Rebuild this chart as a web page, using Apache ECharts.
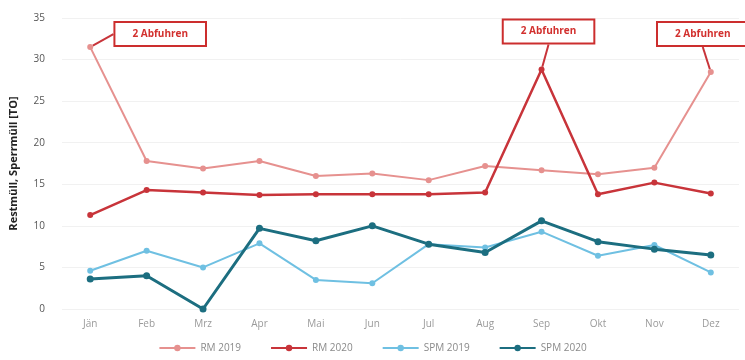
<!DOCTYPE html>
<html>
<head>
<meta charset="utf-8">
<script src="https://cdn.jsdelivr.net/npm/echarts@6/dist/echarts.min.js"></script>
<style>
  html, body { margin: 0; padding: 0; background: #fff; }
  #chart { width: 745px; height: 360px; }
</style>
</head>
<body>
<div id="chart"></div>
<script>
const months = ['Jän', 'Feb', 'Mrz', 'Apr', 'Mai', 'Jun', 'Jul', 'Aug', 'Sep', 'Okt', 'Nov', 'Dez']
const rm2019 = [31.5, 17.8, 16.9, 17.8, 16.0, 16.3, 15.5, 17.2, 16.7, 16.2, 17.0, 28.5]
const rm2020 = [11.3, 14.3, 14.0, 13.7, 13.8, 13.8, 13.8, 14.0, 28.8, 13.8, 15.2, 13.9]
const spm2019 = [4.6, 7.0, 5.0, 7.9, 3.5, 3.1, 7.8, 7.4, 9.3, 6.4, 7.7, 4.4]
const spm2020 = [3.6, 4.0, 0.0, 9.7, 8.2, 10.0, 7.8, 6.8, 10.6, 8.1, 7.2, 6.5]
const noteText = '2 Abfuhren'
// which points carry the "2 Abfuhren" box: [series, monthIndex]
const notes = [['RM 2019', 0], ['RM 2020', 8], ['RM 2019', 11]]

const chart = echarts.init(document.getElementById('chart'))

// offset of the note box from its point (layout only)
const noteOffset = {
  'RM 2019-0': [70, -13],
  'RM 2020-8': [7, -38],
  'RM 2019-11': [-8, -38]
}

function withNotes (name, values) {
  return values.map((v, i) => {
    const hasNote = notes.some(n => n[0] === name && n[1] === i)
    if (!hasNote) return v
    return {
      value: v,
      label: {
        show: true,
        position: 'inside',
        formatter: noteText,
        color: '#d2302e',
        fontSize: 10,
        fontWeight: 'bold',
        fontFamily: 'Open Sans',
        backgroundColor: '#fff',
        borderColor: '#cc2e2e',
        borderWidth: 2,
        padding: [7, 17, 5, 17]
      },
      labelLine: {
        show: true,
        lineStyle: { color: '#c8343a', width: 2 }
      }
    }
  })
}

function makeSeries (name, values, color, width, size) {
  return {
    name: name,
    type: 'line',
    data: withNotes(name, values),
    symbol: 'circle',
    symbolSize: size,
    showSymbol: true,
    itemStyle: { color: color },
    lineStyle: { color: color, width: width },
    labelLayout: (params) => {
      const off = noteOffset[name + '-' + params.dataIndex]
      if (!off) return {}
      return { dx: off[0], dy: off[1] }
    },
    z: 3
  }
}

const option = {
  backgroundColor: '#fff',
  animation: false,
  grid: { left: 62, right: 6, top: 18, bottom: 51 },
  legend: {
    bottom: 2,
    left: 'center',
    itemWidth: 36,
    itemHeight: 8,
    itemGap: 29,
    textStyle: { color: '#8a8a8a', fontSize: 10, fontFamily: 'Open Sans' },
    data: ['RM 2019', 'RM 2020', 'SPM 2019', 'SPM 2020']
  },
  xAxis: {
    type: 'category',
    data: months,
    boundaryGap: true,
    axisLine: { show: false },
    axisTick: { show: false },
    axisLabel: { color: '#9a9a9a', fontSize: 10, margin: 10, fontFamily: 'Open Sans' }
  },
  yAxis: {
    type: 'value',
    min: 0,
    max: 35,
    interval: 5,
    name: 'Restmüll, Sperrmüll [TO]',
    nameLocation: 'middle',
    nameGap: 43,
    nameTextStyle: { color: '#222', fontSize: 11, fontWeight: 'bold', fontFamily: 'Open Sans' },
    axisLine: { show: false },
    axisTick: { show: false },
    axisLabel: { color: '#555', fontSize: 10, margin: 17, fontFamily: 'Open Sans' },
    splitLine: { show: true, lineStyle: { color: '#f1f1f1', width: 1 } }
  },
  series: [
    makeSeries('RM 2019', rm2019, '#e6918f', 2, 6),
    makeSeries('RM 2020', rm2020, '#c8343a', 2.5, 6),
    makeSeries('SPM 2019', spm2019, '#6fc0e2', 2, 6),
    makeSeries('SPM 2020', spm2020, '#1c6e80', 3, 7)
  ]
}

chart.setOption(option)
</script>
</body>
</html>
